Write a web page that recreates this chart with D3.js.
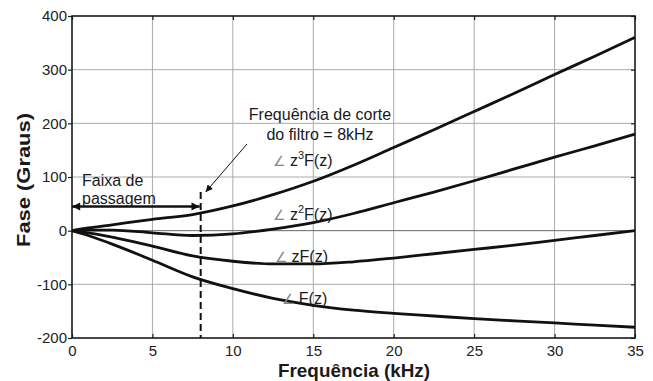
<!DOCTYPE html>
<html>
<head>
<meta charset="utf-8">
<script src="https://cdn.jsdelivr.net/npm/d3@7"></script>
<style>
  body { margin: 0; background: #fff; }
  text { font-family: Arial, "Liberation Sans", Helvetica, sans-serif; }
</style>
</head>
<body>
<svg id="canvas"></svg>
<script>
// frequency points (kHz) and phase (degrees)
let freq   = [0, 1, 2.5, 5, 7.5, 10, 12.5, 15, 17.5, 20, 22.5, 25, 27.5, 30, 32.5, 35]
let phF    = [0, -9, -25, -55, -86, -108, -126, -139, -148, -154, -159, -164, -168, -172, -176, -180]
let phZF   = [0, -4, -12, -29, -47, -57, -62, -62, -58, -51, -43, -35, -27, -18, -9, 0]
let phZ2F  = [0, 1, 1, -4, -9, -6, 3, 15, 32, 52, 72, 93, 115, 137, 158, 180]
let phZ3F  = [0, 5, 11, 21, 30, 46, 67, 92, 122, 155, 188, 222, 256, 291, 325, 360]

let xTicks = [0, 5, 10, 15, 20, 25, 30, 35]
let yTicks = [-200, -100, 0, 100, 200, 300, 400]

let cutoff = 8

let width = 653
let height = 381
let plotLeft = 72
let plotRight = 635
let plotTop = 16
let plotBottom = 338

let canvas = d3.select('#canvas')
canvas.attr('width', width).attr('height', height)

let xScale = d3.scaleLinear().domain([0, 35]).range([plotLeft, plotRight])
let yScale = d3.scaleLinear().domain([-200, 400]).range([plotBottom, plotTop])

// grid
canvas.append('g')
    .selectAll('line')
    .data(xTicks.slice(1, -1))
    .enter()
    .append('line')
    .attr('x1', (d) => xScale(d)).attr('x2', (d) => xScale(d))
    .attr('y1', plotTop).attr('y2', plotBottom)
    .attr('stroke', '#aaa').attr('stroke-width', 1)

canvas.append('g')
    .selectAll('line')
    .data(yTicks.slice(1, -1))
    .enter()
    .append('line')
    .attr('x1', plotLeft).attr('x2', plotRight)
    .attr('y1', (d) => yScale(d)).attr('y2', (d) => yScale(d))
    .attr('stroke', (d) => d == 0 ? '#666' : '#aaa')
    .attr('stroke-width', 1)

// axes (MATLAB-like: ticks inside on top/right/bottom)
let plain = (d) => String(d)   // keep the plain hyphen for negatives
let xAxis = d3.axisBottom(xScale).tickValues(xTicks).tickSize(-4).tickPadding(6).tickFormat(plain)
let gx = canvas.append('g')
    .attr('transform', `translate(0, ${plotBottom})`)
    .call(xAxis)
let yAxis = d3.axisLeft(yScale).tickValues(yTicks).tickSize(4).tickPadding(1).tickFormat(plain)
let gy = canvas.append('g')
    .attr('transform', `translate(${plotLeft}, 0)`)
    .call(yAxis)

let gTop = canvas.append('g')
    .attr('transform', `translate(0, ${plotTop})`)
    .call(d3.axisTop(xScale).tickValues(xTicks).tickSize(-4).tickFormat(''))
let gRight = canvas.append('g')
    .attr('transform', `translate(${plotRight}, 0)`)
    .call(d3.axisRight(yScale).tickValues(yTicks).tickSize(-4).tickFormat(''))

;[gx, gy, gTop, gRight].forEach((g) => {
    g.select('.domain').remove()
    g.selectAll('line').attr('stroke', '#222').attr('stroke-width', 1.2)
    g.selectAll('text').attr('font-size', 15).attr('fill', '#222')
        .style('font-family', 'Arial, "Liberation Sans", sans-serif')
})
gx.selectAll('text').attr('dy', '0.71em').attr('y', 7)

// frame
canvas.append('rect')
    .attr('x', plotLeft).attr('y', plotTop)
    .attr('width', plotRight - plotLeft).attr('height', plotBottom - plotTop)
    .attr('fill', 'none').attr('stroke', '#1a1a1a').attr('stroke-width', 1.6)

// curves
let line = d3.line()
    .x((d, i) => xScale(freq[i]))
    .y((d) => yScale(d))
    .curve(d3.curveMonotoneX)

let series = [phF, phZF, phZ2F, phZ3F]
canvas.append('g')
    .selectAll('path')
    .data(series)
    .enter()
    .append('path')
    .attr('d', (d) => line(d))
    .attr('fill', 'none')
    .attr('stroke', '#111')
    .attr('stroke-width', 2.8)
    .attr('stroke-linejoin', 'round')

// cutoff dashed line
canvas.append('line')
    .attr('x1', xScale(cutoff)).attr('x2', xScale(cutoff))
    .attr('y1', yScale(72)).attr('y2', plotBottom)
    .attr('stroke', '#111').attr('stroke-width', 2)
    .attr('stroke-dasharray', '7,4')

// markers
let defs = canvas.append('defs')
defs.append('marker')
    .attr('id', 'head').attr('viewBox', '0 0 10 10')
    .attr('refX', 10).attr('refY', 5)
    .attr('markerWidth', 5).attr('markerHeight', 3.4)
    .attr('markerUnits', 'strokeWidth')
    .attr('orient', 'auto-start-reverse')
    .append('path').attr('d', 'M0,0 L10,5 L0,10 Z').attr('fill', '#111')
defs.append('marker')
    .attr('id', 'thin').attr('viewBox', '0 0 10 10')
    .attr('refX', 10).attr('refY', 5)
    .attr('markerWidth', 9).attr('markerHeight', 7)
    .attr('markerUnits', 'strokeWidth')
    .attr('orient', 'auto')
    .append('path').attr('d', 'M0,0 L10,5 L0,10 Z').attr('fill', '#111')

// pass band arrow
canvas.append('line')
    .attr('x1', xScale(0)).attr('x2', xScale(cutoff) - 1)
    .attr('y1', yScale(45)).attr('y2', yScale(45))
    .attr('stroke', '#111').attr('stroke-width', 2.4)
    .attr('marker-start', 'url(#head)').attr('marker-end', 'url(#head)')

// arrow pointing to cutoff
canvas.append('line')
    .attr('x1', 247).attr('y1', 144)
    .attr('x2', xScale(cutoff) + 5).attr('y2', yScale(72))
    .attr('stroke', '#111').attr('stroke-width', 1)
    .attr('marker-end', 'url(#thin)')

// annotation texts
let note = (x, y, txt, anchor) => {
    canvas.append('text')
        .attr('x', x).attr('y', y)
        .attr('font-size', 16).attr('fill', '#1a1a1a')
        .attr('text-anchor', anchor || 'start')
        .text(txt)
}
note(82, 186, 'Faixa de')
note(82, 204, 'passagem')
note(320, 120, 'Frequência de corte', 'middle')
note(320, 140, 'do filtro = 8kHz', 'middle')

let curveLabels = [
    { f: 12.5, v: 121, pow: '3' },
    { f: 12.5, v: 20, pow: '2' },
    { f: 12.6, v: -58, pow: '' },
    { f: 13.05, v: -136, pow: null }
]
curveLabels.forEach((c) => {
    let t = canvas.append('text')
        .attr('x', xScale(c.f)).attr('y', yScale(c.v))
        .attr('font-size', 16).attr('fill', '#1a1a1a')
    t.append('tspan').attr('fill', '#888').attr('font-size', 14).text('∠ ')
    if (c.pow === null) {
        t.append('tspan').text('F(z)')
    } else {
        t.append('tspan').text('z')
        if (c.pow != '') {
            t.append('tspan').attr('font-size', 11).attr('dy', -7).text(c.pow)
            t.append('tspan').attr('dy', 7).text('F(z)')
        } else {
            t.append('tspan').text('F(z)')
        }
    }
})

// axis titles
canvas.append('text')
    .attr('x', 354).attr('y', 377)
    .attr('text-anchor', 'middle')
    .attr('font-size', 19).attr('font-weight', 'bold').attr('fill', '#1a1a1a')
    .attr('textLength', 152).attr('lengthAdjust', 'spacingAndGlyphs')
    .text('Frequência (kHz)')

canvas.append('text')
    .attr('transform', 'translate(30, 180) rotate(-90)')
    .attr('text-anchor', 'middle')
    .attr('font-size', 18).attr('font-weight', 'bold').attr('fill', '#1a1a1a')
    .attr('textLength', 134).attr('lengthAdjust', 'spacingAndGlyphs')
    .text('Fase (Graus)')
</script>
</body>
</html>
